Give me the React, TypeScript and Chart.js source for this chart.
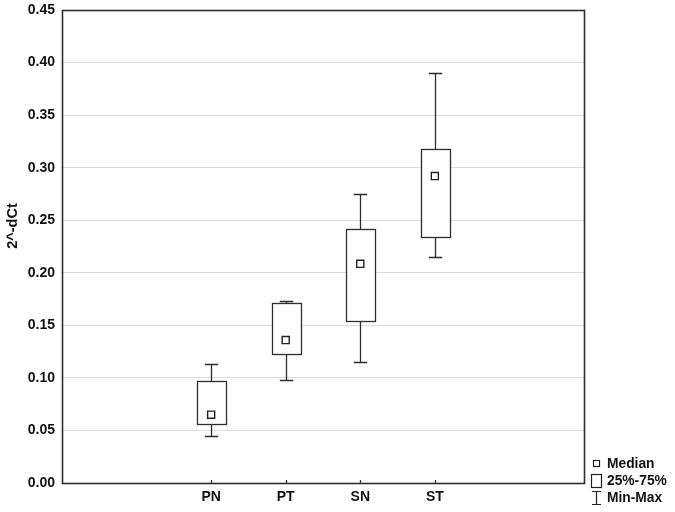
import React, { useEffect, useRef } from "react";
import { Chart, registerables } from "chart.js";

Chart.register(...registerables);

const categories = ["PN", "PT", "SN", "ST"];
const categoryPositions = [2, 3, 4, 5];
const minValues = [0.045, 0.098, 0.115, 0.215];
const q1Values = [0.0565, 0.1225, 0.1545, 0.234];
const medianValues = [0.065, 0.136, 0.2085, 0.292];
const q3Values = [0.097, 0.171, 0.242, 0.3175];
const maxValues = [0.113, 0.173, 0.2745, 0.3905];
const yTicks = [0, 0.05, 0.1, 0.15, 0.2, 0.25, 0.3, 0.35, 0.4, 0.45];
const legendLabels = ["Median", "25%-75%", "Min-Max"];
const yTitle = "2^-dCt";

const FONT = "'Liberation Sans', Arial, sans-serif";
const LINE = "#2e2e2e";

export default function App() {
  const ref = useRef<HTMLCanvasElement | null>(null);

  useEffect(() => {
    if (!ref.current) return;
    const boxPlugin = {
      id: "boxPlugin",
      beforeDatasetsDraw(chart: any) {
        const { ctx, scales, chartArea } = chart;
        const xs = scales.x;
        const ys = scales.y;
        ctx.save();
        ctx.strokeStyle = LINE;
        ctx.lineWidth = 1.3;
        const unit = xs.getPixelForValue(1) - xs.getPixelForValue(0);
        const boxHalf = unit * 0.2;
        const capHalf = unit * 0.09;
        categoryPositions.forEach((pos, i) => {
          const cx = Math.round(xs.getPixelForValue(pos)) + 0.5;
          const yMin = Math.round(ys.getPixelForValue(minValues[i])) + 0.5;
          const yMax = Math.round(ys.getPixelForValue(maxValues[i])) + 0.5;
          const yQ1 = Math.round(ys.getPixelForValue(q1Values[i])) + 0.5;
          const yQ3 = Math.round(ys.getPixelForValue(q3Values[i])) + 0.5;
          ctx.beginPath();
          ctx.moveTo(cx, yMax);
          ctx.lineTo(cx, yQ3);
          ctx.moveTo(cx, yQ1);
          ctx.lineTo(cx, yMin);
          ctx.moveTo(cx - capHalf, yMax);
          ctx.lineTo(cx + capHalf, yMax);
          ctx.moveTo(cx - capHalf, yMin);
          ctx.lineTo(cx + capHalf, yMin);
          ctx.stroke();
          const l = Math.round(cx - boxHalf) + 0.5;
          const r = Math.round(cx + boxHalf) + 0.5;
          ctx.fillStyle = "#ffffff";
          ctx.fillRect(l, yQ3, r - l, yQ1 - yQ3);
          ctx.strokeRect(l, yQ3, r - l, yQ1 - yQ3);
          ctx.beginPath();
          ctx.moveTo(cx, chartArea.bottom);
          ctx.lineTo(cx, chartArea.bottom - 3);
          ctx.stroke();
        });
        ctx.restore();
      },
      afterDraw(chart: any) {
        const { ctx, chartArea } = chart;
        ctx.save();
        ctx.strokeStyle = LINE;
        ctx.lineWidth = 1.6;
        ctx.strokeRect(
          Math.round(chartArea.left) + 0.5,
          Math.round(chartArea.top) + 0.5,
          Math.round(chartArea.right - chartArea.left),
          Math.round(chartArea.bottom - chartArea.top)
        );
        ctx.fillStyle = "#111";
        ctx.font = `bold 14.5px ${FONT}`;
        ctx.textAlign = "center";
        ctx.textBaseline = "middle";
        ctx.translate(13, 226);
        ctx.rotate(-Math.PI / 2);
        ctx.fillText(yTitle, 0, 0);
        ctx.restore();

        ctx.save();
        ctx.fillStyle = "#111";
        ctx.strokeStyle = "#222";
        ctx.lineWidth = 1.2;
        ctx.font = `bold 13.8px ${FONT}`;
        ctx.textAlign = "left";
        ctx.textBaseline = "middle";
        const lx = 607;
        const rows = [464, 481, 498];
        ctx.strokeRect(593.5, rows[0] - 3.5, 6, 6);
        ctx.strokeRect(591.5, rows[1] - 6.5, 10, 13);
        ctx.beginPath();
        ctx.moveTo(592, rows[2] - 6.5);
        ctx.lineTo(601, rows[2] - 6.5);
        ctx.moveTo(596.5, rows[2] - 6.5);
        ctx.lineTo(596.5, rows[2] + 6.5);
        ctx.moveTo(592, rows[2] + 6.5);
        ctx.lineTo(601, rows[2] + 6.5);
        ctx.stroke();
        legendLabels.forEach((t, i) => ctx.fillText(t, lx, rows[i]));
        ctx.restore();
      },
    };

    const chart = new Chart(ref.current, {
      type: "scatter",
      data: {
        datasets: [
          {
            label: "Median",
            data: categoryPositions.map((x, i) => ({ x, y: medianValues[i] })),
            pointStyle: "rect",
            pointRadius: 5,
            borderColor: "#222",
            borderWidth: 1.4,
            backgroundColor: "#ffffff",
          },
        ],
      },
      options: {
        responsive: false,
        animation: false,
        layout: { padding: { left: 0, right: 91, top: 10, bottom: 0 } },
        plugins: { legend: { display: false }, tooltip: { enabled: false } },
        scales: {
          x: {
            type: "linear",
            min: 0,
            max: 7,
            afterBuildTicks: (s: any) => {
              s.ticks = categoryPositions.map((v) => ({ value: v }));
            },
            afterFit: (s: any) => {
              s.height = 29;
              s.paddingLeft = 0;
              s.paddingRight = 0;
            },
            ticks: {
              autoSkip: false,
              maxRotation: 0,
              padding: 6,
              color: "#111",
              font: { family: FONT, size: 14, weight: "bold" },
              callback: (v: any) => {
                const idx = categoryPositions.indexOf(Number(v));
                return idx >= 0 ? categories[idx] : "";
              },
            },
            grid: { display: false, drawTicks: false },
            border: { display: false },
          },
          y: {
            type: "linear",
            min: 0,
            max: 0.45,
            afterBuildTicks: (s: any) => {
              s.ticks = yTicks.map((v) => ({ value: v }));
            },
            afterFit: (s: any) => {
              s.width = 62;
              s.paddingTop = 0;
              s.paddingBottom = 0;
            },
            ticks: {
              padding: 7,
              color: "#111",
              font: { family: FONT, size: 14, weight: "bold" },
              callback: (v: any) => Number(v).toFixed(2),
            },
            grid: { color: "#dcdcdc", lineWidth: 1, drawTicks: false },
            border: { display: false },
          },
        },
      },
      plugins: [boxPlugin],
    });
    return () => chart.destroy();
  }, []);

  return (
    <div style={{ position: "fixed", left: 0, top: 0, width: 675, height: 512, background: "#fff" }}>
      <canvas ref={ref} width={675} height={512} />
    </div>
  );
}
